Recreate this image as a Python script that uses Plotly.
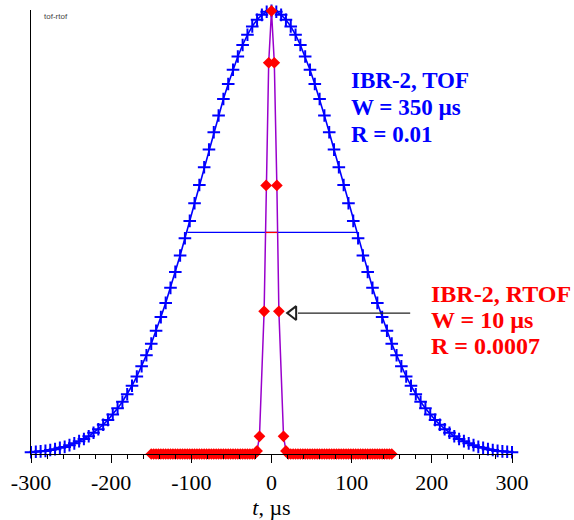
import plotly.graph_objects as go

# ---------------- data ----------------
tof_t = [-300, -294, -288, -282, -276, -270, -264, -258, -252, -246, -240, -234, -228, -222, -216,
         -210, -204, -198, -192, -186, -180, -174, -168, -162, -156, -150, -144, -138, -132, -126,
         -120, -114, -108, -102, -96, -90, -84, -78, -72, -66, -60, -54, -48, -42, -36, -30, -24,
         -18, -12, -6, 0, 6, 12, 18, 24, 30, 36, 42, 48, 54, 60, 66, 72, 78, 84, 90, 96, 102, 108,
         114, 120, 126, 132, 138, 144, 150, 156, 162, 168, 174, 180, 186, 192, 198, 204, 210, 216,
         222, 228, 234, 240, 246, 252, 258, 264, 270, 276, 282, 288, 294, 300]
tof_y = [0.004, 0.005, 0.006, 0.007, 0.009, 0.011, 0.014, 0.016, 0.020, 0.024, 0.029, 0.034, 0.040,
         0.048, 0.056, 0.066, 0.077, 0.089, 0.103, 0.118, 0.135, 0.154, 0.175, 0.198, 0.223, 0.249,
         0.278, 0.309, 0.341, 0.375, 0.411, 0.448, 0.487, 0.526, 0.566, 0.607, 0.647, 0.687, 0.726,
         0.764, 0.801, 0.835, 0.867, 0.897, 0.923, 0.946, 0.965, 0.980, 0.991, 0.998, 1.000,
         0.998, 0.991, 0.980, 0.965, 0.946, 0.923, 0.897, 0.867, 0.835, 0.801, 0.764, 0.726, 0.687,
         0.647, 0.607, 0.566, 0.526, 0.487, 0.448, 0.411, 0.375, 0.341, 0.309, 0.278, 0.249, 0.223,
         0.198, 0.175, 0.154, 0.135, 0.118, 0.103, 0.089, 0.077, 0.066, 0.056, 0.048, 0.040, 0.034,
         0.029, 0.024, 0.020, 0.016, 0.014, 0.011, 0.009, 0.007, 0.006, 0.005, 0.004]

rtof_t = [-150, -147, -144, -141, -138, -135, -132, -129, -126, -123, -120, -117, -114, -111, -108,
          -105, -102, -99, -96, -93, -90, -87, -84, -81, -78, -75, -72, -69, -66, -63, -60, -57,
          -54, -51, -48, -45, -42, -39, -36, -33, -30, -27, -24, -21,
          -18, -15, -9.2, -6.7, -3.5, 0, 3.5, 6.7, 9.2, 15, 18,
          21, 24, 27, 30, 33, 36, 39, 42, 45, 48, 51, 54, 57, 60, 63, 66, 69, 72, 75, 78, 81, 84,
          87, 90, 93, 96, 99, 102, 105, 108, 111, 114, 117, 120, 123, 126, 129, 132, 135, 138, 141,
          144, 147, 150]
rtof_y = [0, 0, 0, 0, 0, 0, 0, 0, 0, 0, 0, 0, 0, 0, 0, 0, 0, 0, 0, 0, 0, 0, 0, 0, 0, 0, 0, 0, 0, 0,
          0, 0, 0, 0, 0, 0, 0, 0, 0, 0, 0, 0, 0, 0,
          0.007, 0.040, 0.322, 0.606, 0.883, 1.000, 0.883, 0.606, 0.322, 0.040, 0.007,
          0, 0, 0, 0, 0, 0, 0, 0, 0, 0, 0, 0, 0, 0, 0, 0, 0, 0, 0, 0, 0, 0, 0, 0, 0, 0, 0, 0, 0, 0,
          0, 0, 0, 0, 0, 0, 0, 0, 0, 0, 0, 0, 0, 0]

tof_fwhm_t = [-105, 107]
rtof_fwhm_t = [-7, 7]
half_level = 0.5

x_tickvals = [-300, -200, -100, 0, 100, 200, 300]
x_ticktext = ["-300", "-200", "-100", "0", "100", "200", "300"]

tof_labels = ["IBR-2, TOF", "W = 350 \u00b5s", "R = 0.01"]
rtof_labels = ["IBR-2, RTOF", "W = 10 \u00b5s", "R = 0.0007"]

# ---------------- figure ----------------
BLUE = "#0000FF"
RED = "#FF0000"
VIOLET = "#9900CC"
SERIF = "Liberation Serif, Times New Roman, serif"

fig = go.Figure()

fig.add_trace(go.Scatter(
    x=tof_t, y=tof_y, mode="lines+markers",
    line=dict(color=BLUE, width=1.6),
    marker=dict(symbol="cross-thin", size=9, line=dict(color=BLUE, width=2)),
    cliponaxis=False, showlegend=False))

fig.add_trace(go.Scatter(
    x=tof_fwhm_t, y=[half_level, half_level], mode="lines",
    line=dict(color=BLUE, width=1.3), showlegend=False))

fig.add_trace(go.Scatter(
    x=rtof_t, y=rtof_y, mode="lines+markers",
    line=dict(color=VIOLET, width=1.5),
    marker=dict(symbol="diamond", size=9, color=RED, line=dict(width=0)),
    cliponaxis=False, showlegend=False))

fig.add_trace(go.Scatter(
    x=rtof_fwhm_t, y=[half_level, half_level], mode="lines",
    line=dict(color=RED, width=1.3), showlegend=False))

# arrow pointing to RTOF peak (open triangle head)
arrow_y = 0.318
fig.add_trace(go.Scatter(
    x=[33, 173], y=[arrow_y, arrow_y], mode="lines",
    line=dict(color="#222222", width=1.3), showlegend=False, hoverinfo="skip"))
fig.add_trace(go.Scatter(
    x=[27], y=[arrow_y], mode="markers",
    marker=dict(symbol="triangle-left-open", size=12, color="#222222",
                line=dict(color="#222222", width=2)),
    showlegend=False, hoverinfo="skip"))

# text labels
for i, txt in enumerate(tof_labels):
    fig.add_annotation(x=97, y=[0.842, 0.781, 0.722][i], xref="x", yref="y",
                       text="<b>" + txt + "</b>", showarrow=False,
                       xanchor="left", yanchor="middle",
                       font=dict(family=SERIF, size=23, color=BLUE))
for i, txt in enumerate(rtof_labels):
    fig.add_annotation(x=197, y=[0.362, 0.302, 0.243][i], xref="x", yref="y",
                       text="<b>" + txt + "</b>", showarrow=False,
                       xanchor="left", yanchor="middle",
                       font=dict(family=SERIF, size=24, color=RED))

fig.add_annotation(x=0.022, y=0.985, xref="paper", yref="paper", text="tof-rtof",
                   showarrow=False, xanchor="left", yanchor="middle",
                   font=dict(family="Liberation Sans, Arial, sans-serif", size=8, color="#444444"))

fig.update_layout(
    width=574, height=520,
    margin=dict(l=31, r=62, t=10, b=66, autoexpand=False),
    paper_bgcolor="white", plot_bgcolor="white",
    font=dict(family=SERIF, color="black"),
    xaxis=dict(
        range=[-300, 300], showgrid=False, zeroline=False, automargin=False,
        showline=True, linecolor="black", linewidth=1,
        ticks="outside", ticklen=8, tickwidth=1, tickcolor="black",
        tickvals=x_tickvals, ticktext=x_ticktext,
        tickfont=dict(family=SERIF, size=22, color="black"),
        ticklabelstandoff=1,
        minor=dict(dtick=20, tick0=0, ticks="outside", ticklen=4, tickcolor="black", tickwidth=1),
        title=dict(text="<i>t</i>, \u00b5s", font=dict(family=SERIF, size=22, color="black"),
                   standoff=5),
    ),
    yaxis=dict(
        range=[0, 1.002], showgrid=False, zeroline=False, automargin=False,
        showline=True, linecolor="black", linewidth=1,
        showticklabels=False, ticks="",
    ),
)

fig.write_html("out.html")
